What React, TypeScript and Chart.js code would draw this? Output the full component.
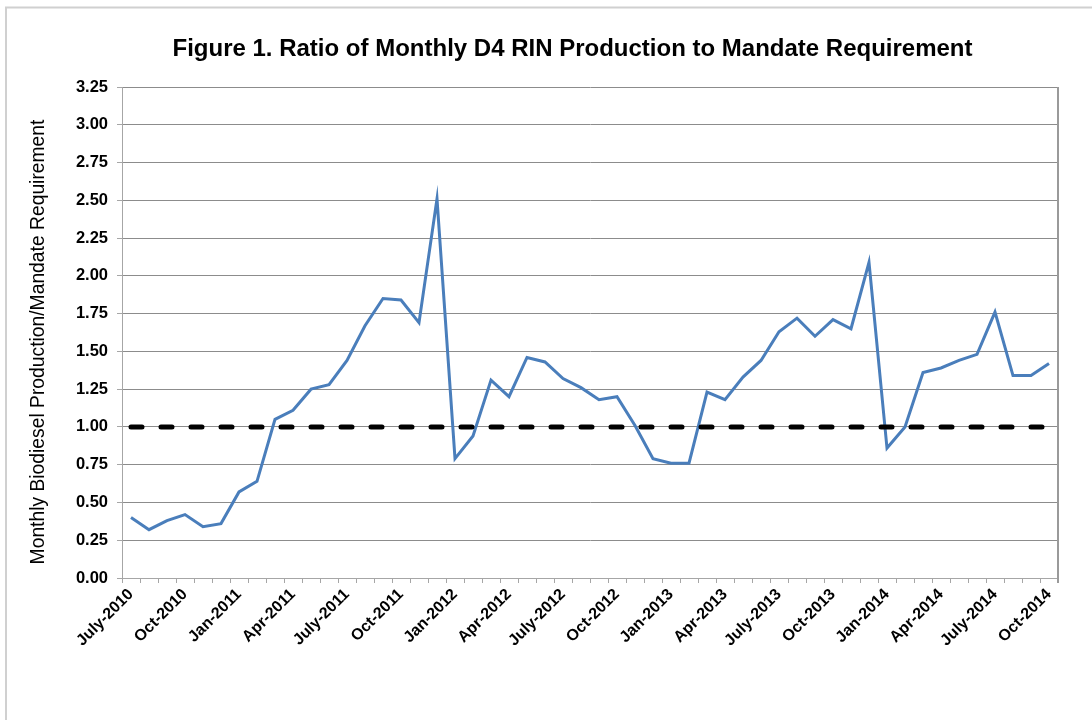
import React, { useEffect, useRef } from "react";
import { Chart, registerables } from "chart.js";

Chart.register(...registerables);

const MONTHS: string[] = [
  "July-2010", "Aug-2010", "Sep-2010", "Oct-2010", "Nov-2010", "Dec-2010",
  "Jan-2011", "Feb-2011", "Mar-2011", "Apr-2011", "May-2011", "June-2011",
  "July-2011", "Aug-2011", "Sep-2011", "Oct-2011", "Nov-2011", "Dec-2011",
  "Jan-2012", "Feb-2012", "Mar-2012", "Apr-2012", "May-2012", "June-2012",
  "July-2012", "Aug-2012", "Sep-2012", "Oct-2012", "Nov-2012", "Dec-2012",
  "Jan-2013", "Feb-2013", "Mar-2013", "Apr-2013", "May-2013", "June-2013",
  "July-2013", "Aug-2013", "Sep-2013", "Oct-2013", "Nov-2013", "Dec-2013",
  "Jan-2014", "Feb-2014", "Mar-2014", "Apr-2014", "May-2014", "June-2014",
  "July-2014", "Aug-2014", "Sep-2014", "Oct-2014",
];

const RATIO: number[] = [
  0.40, 0.32, 0.38, 0.42, 0.34, 0.36,
  0.57, 0.64, 1.05, 1.11, 1.25, 1.28,
  1.44, 1.67, 1.85, 1.84, 1.69, 2.51,
  0.79, 0.94, 1.31, 1.20, 1.46, 1.43,
  1.32, 1.26, 1.18, 1.20, 1.01, 0.79,
  0.76, 0.76, 1.23, 1.18, 1.33, 1.44,
  1.63, 1.72, 1.60, 1.71, 1.65, 2.09,
  0.86, 1.00, 1.36, 1.39, 1.44, 1.48,
  1.76, 1.34, 1.34, 1.42,
];

const MANDATE_LEVEL = 1.0;

const Y_MIN = 0;
const Y_MAX = 3.25;
const Y_STEP = 0.25;

const TITLE = "Figure 1. Ratio of Monthly D4 RIN Production to Mandate Requirement";
const Y_TITLE = "Monthly Biodiesel Production/Mandate Requirement";

const FONT = "Arial, 'Liberation Sans', sans-serif";

const decorPlugin = {
  id: "decor",
  beforeDraw(chart: any) {
    const ctx = chart.ctx;
    ctx.save();
    ctx.fillStyle = "#ffffff";
    ctx.fillRect(0, 0, chart.width, chart.height);
    // outer chart border (cut off at right/bottom)
    ctx.strokeStyle = "#d0d0d0";
    ctx.lineWidth = 2;
    ctx.beginPath();
    ctx.moveTo(6, chart.height + 2);
    ctx.lineTo(6, 7.5);
    ctx.lineTo(chart.width + 2, 7.5);
    ctx.stroke();
    // title
    ctx.fillStyle = "#000000";
    ctx.font = "bold 24px " + FONT;
    ctx.textAlign = "center";
    ctx.textBaseline = "alphabetic";
    ctx.fillText(TITLE, 572.5, 56);
    // y axis title
    ctx.save();
    ctx.translate(38.5, 342);
    ctx.rotate(-Math.PI / 2);
    ctx.font = "19.3px " + FONT;
    ctx.textAlign = "center";
    ctx.textBaseline = "middle";
    ctx.fillText(Y_TITLE, 0, 0);
    ctx.restore();
    ctx.restore();
  },
  afterDraw(chart: any) {
    const { ctx, chartArea } = chart;
    ctx.save();
    ctx.strokeStyle = "#9a9a9a";
    ctx.lineWidth = 2;
    ctx.beginPath();
    ctx.moveTo(chartArea.right, chartArea.top);
    ctx.lineTo(chartArea.right, chartArea.bottom + 5);
    ctx.stroke();
    ctx.restore();
  },
};

export default function App() {
  const canvasRef = useRef<HTMLCanvasElement | null>(null);

  useEffect(() => {
    const canvas = canvasRef.current;
    if (!canvas) return;
    const chart = new Chart(canvas, {
      type: "line",
      data: {
        labels: MONTHS,
        datasets: [
          {
            label: "Ratio",
            data: RATIO,
            borderColor: "#4a7ebb",
            backgroundColor: "#4a7ebb",
            borderWidth: 3,
            pointRadius: 0,
            tension: 0,
            order: 2,
          },
          {
            label: "Mandate",
            data: MONTHS.map(() => MANDATE_LEVEL),
            borderColor: "#000000",
            borderWidth: 5,
            borderDash: [11, 19],
            borderCapStyle: "round",
            pointRadius: 0,
            order: 1,
          },
        ],
      },
      options: {
        responsive: false,
        animation: false,
        layout: { padding: { left: 0, right: 34, top: 87, bottom: 0 } },
        plugins: {
          legend: { display: false },
          tooltip: { enabled: false },
          title: { display: false },
        },
        scales: {
          x: {
            type: "category",
            offset: true,
            afterFit: (scale: any) => {
              scale.height = 142;
            },
            grid: {
              offset: true,
              drawOnChartArea: false,
              drawTicks: true,
              tickLength: 5,
              color: "#a6a6a6",
            },
            border: { color: "#a6a6a6", width: 1 },
            ticks: {
              autoSkip: false,
              maxRotation: 45,
              minRotation: 45,
              padding: 2,
              color: "#000000",
              font: { family: FONT, size: 16, weight: "bold" },
              callback: (_v: any, i: number) => (i % 3 === 0 ? MONTHS[i] : ""),
            },
          },
          y: {
            min: Y_MIN,
            max: Y_MAX,
            afterFit: (scale: any) => {
              scale.width = 122;
            },
            grid: {
              color: "#8c8c8c",
              lineWidth: 1,
              drawTicks: true,
              tickLength: 5,
              tickColor: "#a6a6a6",
            },
            border: { color: "#a6a6a6", width: 1 },
            title: { display: false },
            ticks: {
              stepSize: Y_STEP,
              padding: 9,
              color: "#000000",
              font: { family: FONT, size: 16.5, weight: "bold" },
              callback: (v: any) => Number(v).toFixed(2),
            },
          },
        },
      },
      plugins: [decorPlugin],
    });
    return () => chart.destroy();
  }, []);

  return (
    <div style={{ position: "fixed", left: 0, top: 0, width: 1092, height: 720, background: "#fff" }}>
      <canvas ref={canvasRef} width={1092} height={720} style={{ display: "block", width: 1092, height: 720 }} />
    </div>
  );
}
